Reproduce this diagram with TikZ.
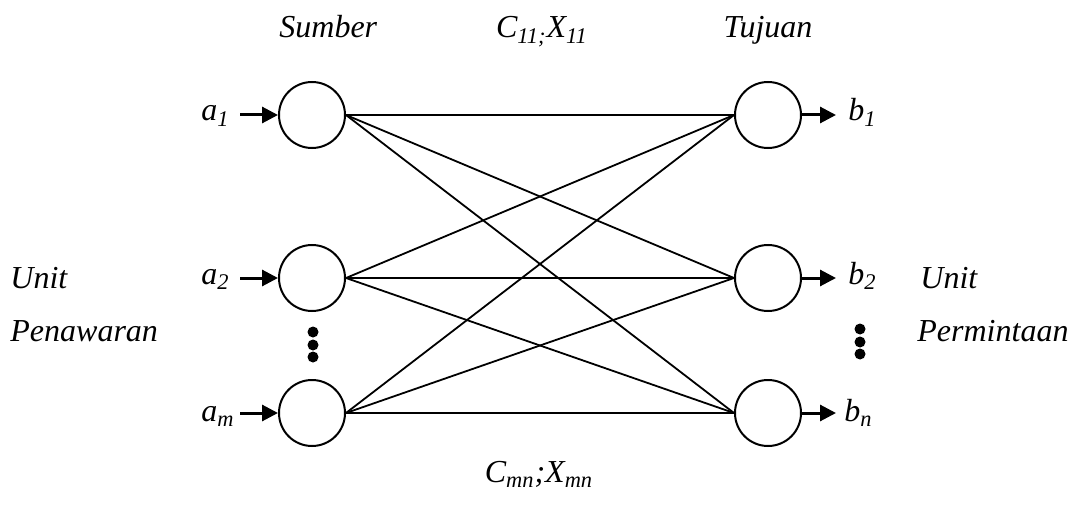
\documentclass[tikz,border=0pt]{standalone}
\usepackage{fontspec}
\setmainfont{Liberation Serif}
\usetikzlibrary{arrows.meta}
\begin{document}
\begin{tikzpicture}[x=0.5pt,y=-0.5pt,
  nd/.style={circle,draw,line width=1pt,minimum size=33pt,inner sep=0pt},
  lbl/.style={font=\fontsize{16}{19}\selectfont\itshape,inner sep=0pt},
  inarr/.style={line width=1.5pt,-{Triangle[length=8pt,width=8pt]}},
  edge/.style={line width=0.9pt},
  dot/.style={circle,fill,inner sep=0pt,minimum size=5.5pt}]
\useasboundingbox (0,0) rectangle (1071,508);
% nodes
\node[nd] (a1) at (312,115) {};
\node[nd] (a2) at (312,278) {};
\node[nd] (am) at (312,413) {};
\node[nd] (b1) at (768,115) {};
\node[nd] (b2) at (768,278) {};
\node[nd] (bn) at (768,413) {};
% edges
\foreach \s in {a1,a2,am}{
  \foreach \t in {b1,b2,bn}{
    \draw[edge] (\s.east) -- (\t.west);
  }
}
% input labels
\node[lbl,anchor=base west] (la1) at (201,121) {a\textsubscript{1}};
\node[lbl,anchor=base west] (la2) at (201,284) {a\textsubscript{2}};
\node[lbl,anchor=base west] (lam) at (201,421) {a\textsubscript{m}};
\coordinate (ia1) at (240,115);
\coordinate (ia2) at (240,278);
\coordinate (iam) at (240,413);
\draw[inarr] (ia1) -- (a1.west);
\draw[inarr] (ia2) -- (a2.west);
\draw[inarr] (iam) -- (am.west);
% output labels
\coordinate (ob1) at (836,115);
\coordinate (ob2) at (836,278);
\coordinate (obn) at (836,413);
\draw[inarr] (b1.east) -- (ob1);
\draw[inarr] (b2.east) -- (ob2);
\draw[inarr] (bn.east) -- (obn);
\node[lbl,anchor=base west] (lb1) at (848,121) {b\textsubscript{1}};
\node[lbl,anchor=base west] (lb2) at (848,284) {b\textsubscript{2}};
\node[lbl,anchor=base west] (lbn) at (844,421) {b\textsubscript{n}};
% dots
\node[dot] (d1) at (313,332) {};
\node[dot] (d2) at (313,345) {};
\node[dot] (d3) at (313,357) {};
\node[dot] (e1) at (860,329) {};
\node[dot] (e2) at (860,342) {};
\node[dot] (e3) at (860,354) {};
% titles
\node[lbl,anchor=base west] (sumber) at (279,38) {Sumber};
\node[lbl,anchor=base] (c11) at (542,38) {C\textsubscript{11;}X\textsubscript{11}};
\node[lbl,anchor=base] (tujuan) at (768,38) {Tujuan};
\node[lbl,anchor=base] (cmn) at (539,482) {C\textsubscript{mn};X\textsubscript{mn}};
\node[lbl,anchor=base west] (unitl) at (10,288) {Unit};
\node[lbl,anchor=base west] (penaw) at (10,341) {Penawaran};
\node[lbl,anchor=base west] (unitr) at (920,288) {Unit};
\node[lbl,anchor=base west] (permi) at (917,341) {Permintaan};
\end{tikzpicture}
\end{document}
